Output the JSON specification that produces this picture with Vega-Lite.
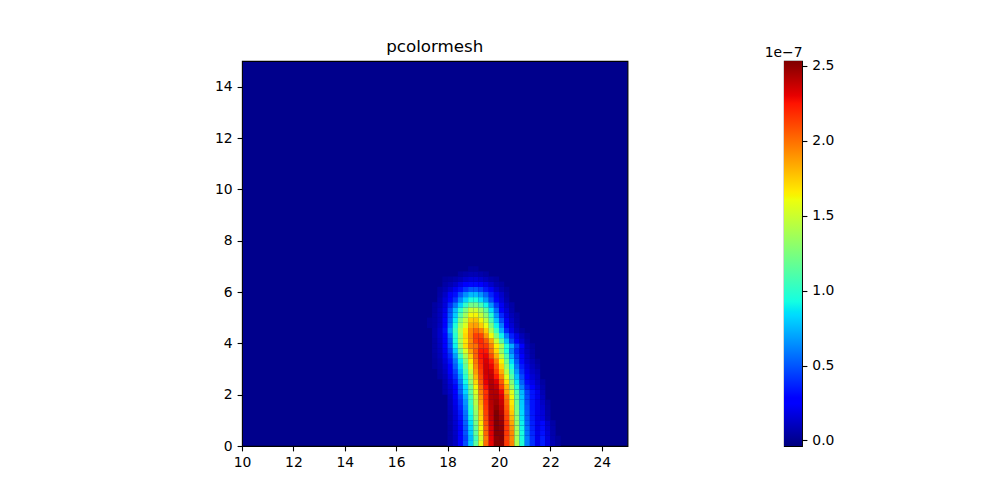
{"$schema":"https://vega.github.io/schema/vega-lite/v6.json","padding":{"left":213,"top":38,"right":0,"bottom":0},"background":"white","config":{"font":"DejaVu Sans","view":{"stroke":"#000000","strokeWidth":1.1},"axis":{"grid":false,"labelFont":"DejaVu Sans","labelFontSize":13.9,"labelColor":"#000000","tickColor":"#000000","tickSize":4.9,"tickWidth":1.1,"labelPadding":4.9,"labelFlush":false,"domain":false,"title":null}},"spacing":134,"hconcat":[{"width":385.5,"height":385,"title":{"text":"pcolormesh","font":"DejaVu Sans","fontSize":16.7,"fontWeight":"normal","color":"#000000","offset":5},"view":{"fill":"#00008c","stroke":"#000000","strokeWidth":1.1},"data":{"values":[
{"x":18.1,"y":0.1,"v":0.05},{"x":18.3,"y":0.1,"v":0.11},{"x":18.5,"y":0.1,"v":0.26},{"x":18.7,"y":0.1,"v":0.48},{"x":18.9,"y":0.1,"v":0.79},{"x":19.1,"y":0.1,"v":1.15},{"x":19.3,"y":0.1,"v":1.58},{"x":19.5,"y":0.1,"v":2.01},{"x":19.7,"y":0.1,"v":2.3},{"x":19.9,"y":0.1,"v":2.52},{"x":20.1,"y":0.1,"v":2.52},{"x":20.3,"y":0.1,"v":2.15},{"x":20.5,"y":0.1,"v":1.95},{"x":20.7,"y":0.1,"v":1.4},{"x":20.9,"y":0.1,"v":0.97},{"x":21.1,"y":0.1,"v":0.6},{"x":21.3,"y":0.1,"v":0.4},{"x":21.5,"y":0.1,"v":0.2},{"x":21.7,"y":0.1,"v":0.35},{"x":21.9,"y":0.1,"v":0.18},{"x":22.1,"y":0.1,"v":0.08},{"x":22.3,"y":0.1,"v":0.03},
{"x":18.1,"y":0.3,"v":0.05},{"x":18.3,"y":0.3,"v":0.11},{"x":18.5,"y":0.3,"v":0.25},{"x":18.7,"y":0.3,"v":0.45},{"x":18.9,"y":0.3,"v":0.75},{"x":19.1,"y":0.3,"v":1.08},{"x":19.3,"y":0.3,"v":1.52},{"x":19.5,"y":0.3,"v":1.97},{"x":19.7,"y":0.3,"v":2.3},{"x":19.9,"y":0.3,"v":2.5},{"x":20.1,"y":0.3,"v":2.52},{"x":20.3,"y":0.3,"v":2.12},{"x":20.5,"y":0.3,"v":1.93},{"x":20.7,"y":0.3,"v":1.37},{"x":20.9,"y":0.3,"v":0.95},{"x":21.1,"y":0.3,"v":0.6},{"x":21.3,"y":0.3,"v":0.4},{"x":21.5,"y":0.3,"v":0.2},{"x":21.7,"y":0.3,"v":0.35},{"x":21.9,"y":0.3,"v":0.17},{"x":22.1,"y":0.3,"v":0.07},{"x":22.3,"y":0.3,"v":0.03},
{"x":18.1,"y":0.5,"v":0.05},{"x":18.3,"y":0.5,"v":0.12},{"x":18.5,"y":0.5,"v":0.27},{"x":18.7,"y":0.5,"v":0.49},{"x":18.9,"y":0.5,"v":0.8},{"x":19.1,"y":0.5,"v":1.17},{"x":19.3,"y":0.5,"v":1.6},{"x":19.5,"y":0.5,"v":2.03},{"x":19.7,"y":0.5,"v":2.32},{"x":19.9,"y":0.5,"v":2.52},{"x":20.1,"y":0.5,"v":2.51},{"x":20.3,"y":0.5,"v":2.15},{"x":20.5,"y":0.5,"v":1.93},{"x":20.7,"y":0.5,"v":1.38},{"x":20.9,"y":0.5,"v":0.94},{"x":21.1,"y":0.5,"v":0.58},{"x":21.3,"y":0.5,"v":0.38},{"x":21.5,"y":0.5,"v":0.2},{"x":21.7,"y":0.5,"v":0.32},{"x":21.9,"y":0.5,"v":0.16},{"x":22.1,"y":0.5,"v":0.06},
{"x":18.1,"y":0.7,"v":0.05},{"x":18.3,"y":0.7,"v":0.13},{"x":18.5,"y":0.7,"v":0.28},{"x":18.7,"y":0.7,"v":0.5},{"x":18.9,"y":0.7,"v":0.82},{"x":19.1,"y":0.7,"v":1.19},{"x":19.3,"y":0.7,"v":1.62},{"x":19.5,"y":0.7,"v":2.05},{"x":19.7,"y":0.7,"v":2.33},{"x":19.9,"y":0.7,"v":2.53},{"x":20.1,"y":0.7,"v":2.5},{"x":20.3,"y":0.7,"v":2.14},{"x":20.5,"y":0.7,"v":1.9},{"x":20.7,"y":0.7,"v":1.36},{"x":20.9,"y":0.7,"v":0.92},{"x":21.1,"y":0.7,"v":0.57},{"x":21.3,"y":0.7,"v":0.37},{"x":21.5,"y":0.7,"v":0.2},{"x":21.7,"y":0.7,"v":0.31},{"x":21.9,"y":0.7,"v":0.15},{"x":22.1,"y":0.7,"v":0.06},
{"x":18.1,"y":0.9,"v":0.06},{"x":18.3,"y":0.9,"v":0.14},{"x":18.5,"y":0.9,"v":0.3},{"x":18.7,"y":0.9,"v":0.53},{"x":18.9,"y":0.9,"v":0.86},{"x":19.1,"y":0.9,"v":1.24},{"x":19.3,"y":0.9,"v":1.67},{"x":19.5,"y":0.9,"v":2.08},{"x":19.7,"y":0.9,"v":2.36},{"x":19.9,"y":0.9,"v":2.54},{"x":20.1,"y":0.9,"v":2.48},{"x":20.3,"y":0.9,"v":2.14},{"x":20.5,"y":0.9,"v":1.85},{"x":20.7,"y":0.9,"v":1.33},{"x":20.9,"y":0.9,"v":0.9},{"x":21.1,"y":0.9,"v":0.55},{"x":21.3,"y":0.9,"v":0.36},{"x":21.5,"y":0.9,"v":0.2},{"x":21.7,"y":0.9,"v":0.3},{"x":21.9,"y":0.9,"v":0.14},{"x":22.1,"y":0.9,"v":0.05},
{"x":18.1,"y":1.1,"v":0.06},{"x":18.3,"y":1.1,"v":0.15},{"x":18.5,"y":1.1,"v":0.32},{"x":18.7,"y":1.1,"v":0.56},{"x":18.9,"y":1.1,"v":0.9},{"x":19.1,"y":1.1,"v":1.29},{"x":19.3,"y":1.1,"v":1.72},{"x":19.5,"y":1.1,"v":2.11},{"x":19.7,"y":1.1,"v":2.38},{"x":19.9,"y":1.1,"v":2.54},{"x":20.1,"y":1.1,"v":2.46},{"x":20.3,"y":1.1,"v":2.12},{"x":20.5,"y":1.1,"v":1.8},{"x":20.7,"y":1.1,"v":1.3},{"x":20.9,"y":1.1,"v":0.87},{"x":21.1,"y":1.1,"v":0.53},{"x":21.3,"y":1.1,"v":0.35},{"x":21.5,"y":1.1,"v":0.2},{"x":21.7,"y":1.1,"v":0.17},{"x":21.9,"y":1.1,"v":0.07},
{"x":18.1,"y":1.3,"v":0.07},{"x":18.3,"y":1.3,"v":0.16},{"x":18.5,"y":1.3,"v":0.34},{"x":18.7,"y":1.3,"v":0.58},{"x":18.9,"y":1.3,"v":0.93},{"x":19.1,"y":1.3,"v":1.32},{"x":19.3,"y":1.3,"v":1.75},{"x":19.5,"y":1.3,"v":2.13},{"x":19.7,"y":1.3,"v":2.39},{"x":19.9,"y":1.3,"v":2.53},{"x":20.1,"y":1.3,"v":2.43},{"x":20.3,"y":1.3,"v":2.1},{"x":20.5,"y":1.3,"v":1.76},{"x":20.7,"y":1.3,"v":1.26},{"x":20.9,"y":1.3,"v":0.84},{"x":21.1,"y":1.3,"v":0.52},{"x":21.3,"y":1.3,"v":0.34},{"x":21.5,"y":1.3,"v":0.2},{"x":21.7,"y":1.3,"v":0.16},{"x":21.9,"y":1.3,"v":0.06},
{"x":18.1,"y":1.5,"v":0.08},{"x":18.3,"y":1.5,"v":0.18},{"x":18.5,"y":1.5,"v":0.37},{"x":18.7,"y":1.5,"v":0.62},{"x":18.9,"y":1.5,"v":0.98},{"x":19.1,"y":1.5,"v":1.38},{"x":19.3,"y":1.5,"v":1.8},{"x":19.5,"y":1.5,"v":2.16},{"x":19.7,"y":1.5,"v":2.4},{"x":19.9,"y":1.5,"v":2.5},{"x":20.1,"y":1.5,"v":2.4},{"x":20.3,"y":1.5,"v":2.06},{"x":20.5,"y":1.5,"v":1.71},{"x":20.7,"y":1.5,"v":1.22},{"x":20.9,"y":1.5,"v":0.81},{"x":21.1,"y":1.5,"v":0.5},{"x":21.3,"y":1.5,"v":0.33},{"x":21.5,"y":1.5,"v":0.2},{"x":21.7,"y":1.5,"v":0.14},{"x":21.9,"y":1.5,"v":0.05},
{"x":18.1,"y":1.7,"v":0.09},{"x":18.3,"y":1.7,"v":0.2},{"x":18.5,"y":1.7,"v":0.4},{"x":18.7,"y":1.7,"v":0.66},{"x":18.9,"y":1.7,"v":1.03},{"x":19.1,"y":1.7,"v":1.43},{"x":19.3,"y":1.7,"v":1.85},{"x":19.5,"y":1.7,"v":2.18},{"x":19.7,"y":1.7,"v":2.41},{"x":19.9,"y":1.7,"v":2.47},{"x":20.1,"y":1.7,"v":2.37},{"x":20.3,"y":1.7,"v":2.02},{"x":20.5,"y":1.7,"v":1.67},{"x":20.7,"y":1.7,"v":1.19},{"x":20.9,"y":1.7,"v":0.8},{"x":21.1,"y":1.7,"v":0.48},{"x":21.3,"y":1.7,"v":0.33},{"x":21.5,"y":1.7,"v":0.2},{"x":21.7,"y":1.7,"v":0.12},{"x":21.9,"y":1.7,"v":0.04},
{"x":18.1,"y":1.9,"v":0.1},{"x":18.3,"y":1.9,"v":0.23},{"x":18.5,"y":1.9,"v":0.44},{"x":18.7,"y":1.9,"v":0.72},{"x":18.9,"y":1.9,"v":1.08},{"x":19.1,"y":1.9,"v":1.48},{"x":19.3,"y":1.9,"v":1.9},{"x":19.5,"y":1.9,"v":2.19},{"x":19.7,"y":1.9,"v":2.42},{"x":19.9,"y":1.9,"v":2.44},{"x":20.1,"y":1.9,"v":2.33},{"x":20.3,"y":1.9,"v":1.97},{"x":20.5,"y":1.9,"v":1.62},{"x":20.7,"y":1.9,"v":1.15},{"x":20.9,"y":1.9,"v":0.78},{"x":21.1,"y":1.9,"v":0.47},{"x":21.3,"y":1.9,"v":0.33},{"x":21.5,"y":1.9,"v":0.2},{"x":21.7,"y":1.9,"v":0.1},
{"x":17.9,"y":2.1,"v":0.06},{"x":18.1,"y":2.1,"v":0.13},{"x":18.3,"y":2.1,"v":0.28},{"x":18.5,"y":2.1,"v":0.52},{"x":18.7,"y":2.1,"v":0.82},{"x":18.9,"y":2.1,"v":1.15},{"x":19.1,"y":2.1,"v":1.55},{"x":19.3,"y":2.1,"v":1.95},{"x":19.5,"y":2.1,"v":2.17},{"x":19.7,"y":2.1,"v":2.42},{"x":19.9,"y":2.1,"v":2.42},{"x":20.1,"y":2.1,"v":2.28},{"x":20.3,"y":2.1,"v":1.85},{"x":20.5,"y":2.1,"v":1.55},{"x":20.7,"y":2.1,"v":1.1},{"x":20.9,"y":2.1,"v":0.75},{"x":21.1,"y":2.1,"v":0.45},{"x":21.3,"y":2.1,"v":0.33},{"x":21.5,"y":2.1,"v":0.2},{"x":21.7,"y":2.1,"v":0.08},
{"x":17.9,"y":2.3,"v":0.06},{"x":18.1,"y":2.3,"v":0.14},{"x":18.3,"y":2.3,"v":0.29},{"x":18.5,"y":2.3,"v":0.54},{"x":18.7,"y":2.3,"v":0.84},{"x":18.9,"y":2.3,"v":1.21},{"x":19.1,"y":2.3,"v":1.63},{"x":19.3,"y":2.3,"v":2.0},{"x":19.5,"y":2.3,"v":2.26},{"x":19.7,"y":2.3,"v":2.43},{"x":19.9,"y":2.3,"v":2.38},{"x":20.1,"y":2.3,"v":2.14},{"x":20.3,"y":2.3,"v":1.8},{"x":20.5,"y":2.3,"v":1.37},{"x":20.7,"y":2.3,"v":0.96},{"x":20.9,"y":2.3,"v":0.61},{"x":21.1,"y":2.3,"v":0.37},{"x":21.3,"y":2.3,"v":0.28},{"x":21.5,"y":2.3,"v":0.15},{"x":21.7,"y":2.3,"v":0.06},
{"x":17.9,"y":2.5,"v":0.07},{"x":18.1,"y":2.5,"v":0.17},{"x":18.3,"y":2.5,"v":0.34},{"x":18.5,"y":2.5,"v":0.6},{"x":18.7,"y":2.5,"v":0.92},{"x":18.9,"y":2.5,"v":1.31},{"x":19.1,"y":2.5,"v":1.72},{"x":19.3,"y":2.5,"v":2.06},{"x":19.5,"y":2.5,"v":2.3},{"x":19.7,"y":2.5,"v":2.42},{"x":19.9,"y":2.5,"v":2.32},{"x":20.1,"y":2.5,"v":2.06},{"x":20.3,"y":2.5,"v":1.69},{"x":20.5,"y":2.5,"v":1.26},{"x":20.7,"y":2.5,"v":0.87},{"x":20.9,"y":2.5,"v":0.53},{"x":21.1,"y":2.5,"v":0.31},{"x":21.3,"y":2.5,"v":0.2},{"x":21.5,"y":2.5,"v":0.12},{"x":21.7,"y":2.5,"v":0.04},
{"x":17.7,"y":2.7,"v":0.04},{"x":17.9,"y":2.7,"v":0.09},{"x":18.1,"y":2.7,"v":0.2},{"x":18.3,"y":2.7,"v":0.4},{"x":18.5,"y":2.7,"v":0.67},{"x":18.7,"y":2.7,"v":0.99},{"x":18.9,"y":2.7,"v":1.39},{"x":19.1,"y":2.7,"v":1.8},{"x":19.3,"y":2.7,"v":2.1},{"x":19.5,"y":2.7,"v":2.33},{"x":19.7,"y":2.7,"v":2.39},{"x":19.9,"y":2.7,"v":2.23},{"x":20.1,"y":2.7,"v":1.94},{"x":20.3,"y":2.7,"v":1.56},{"x":20.5,"y":2.7,"v":1.14},{"x":20.7,"y":2.7,"v":0.77},{"x":20.9,"y":2.7,"v":0.47},{"x":21.1,"y":2.7,"v":0.26},{"x":21.3,"y":2.7,"v":0.15},{"x":21.5,"y":2.7,"v":0.1},
{"x":17.7,"y":2.9,"v":0.05},{"x":17.9,"y":2.9,"v":0.11},{"x":18.1,"y":2.9,"v":0.24},{"x":18.3,"y":2.9,"v":0.45},{"x":18.5,"y":2.9,"v":0.74},{"x":18.7,"y":2.9,"v":1.07},{"x":18.9,"y":2.9,"v":1.48},{"x":19.1,"y":2.9,"v":1.88},{"x":19.3,"y":2.9,"v":2.14},{"x":19.5,"y":2.9,"v":2.36},{"x":19.7,"y":2.9,"v":2.36},{"x":19.9,"y":2.9,"v":2.14},{"x":20.1,"y":2.9,"v":1.83},{"x":20.3,"y":2.9,"v":1.43},{"x":20.5,"y":2.9,"v":1.02},{"x":20.7,"y":2.9,"v":0.67},{"x":20.9,"y":2.9,"v":0.4},{"x":21.1,"y":2.9,"v":0.21},{"x":21.3,"y":2.9,"v":0.12},{"x":21.5,"y":2.9,"v":0.08},
{"x":17.5,"y":3.1,"v":0.03},{"x":17.7,"y":3.1,"v":0.06},{"x":17.9,"y":3.1,"v":0.13},{"x":18.1,"y":3.1,"v":0.28},{"x":18.3,"y":3.1,"v":0.52},{"x":18.5,"y":3.1,"v":0.82},{"x":18.7,"y":3.1,"v":1.17},{"x":18.9,"y":3.1,"v":1.57},{"x":19.1,"y":3.1,"v":1.93},{"x":19.3,"y":3.1,"v":2.18},{"x":19.5,"y":3.1,"v":2.35},{"x":19.7,"y":3.1,"v":2.29},{"x":19.9,"y":3.1,"v":2.07},{"x":20.1,"y":3.1,"v":1.73},{"x":20.3,"y":3.1,"v":1.32},{"x":20.5,"y":3.1,"v":0.93},{"x":20.7,"y":3.1,"v":0.59},{"x":20.9,"y":3.1,"v":0.35},{"x":21.1,"y":3.1,"v":0.18},{"x":21.3,"y":3.1,"v":0.1},{"x":21.5,"y":3.1,"v":0.05},
{"x":17.5,"y":3.3,"v":0.03},{"x":17.7,"y":3.3,"v":0.07},{"x":17.9,"y":3.3,"v":0.16},{"x":18.1,"y":3.3,"v":0.33},{"x":18.3,"y":3.3,"v":0.58},{"x":18.5,"y":3.3,"v":0.89},{"x":18.7,"y":3.3,"v":1.26},{"x":18.9,"y":3.3,"v":1.65},{"x":19.1,"y":3.3,"v":1.98},{"x":19.3,"y":3.3,"v":2.21},{"x":19.5,"y":3.3,"v":2.33},{"x":19.7,"y":3.3,"v":2.24},{"x":19.9,"y":3.3,"v":1.98},{"x":20.1,"y":3.3,"v":1.63},{"x":20.3,"y":3.3,"v":1.21},{"x":20.5,"y":3.3,"v":0.84},{"x":20.7,"y":3.3,"v":0.51},{"x":20.9,"y":3.3,"v":0.3},{"x":21.1,"y":3.3,"v":0.14},{"x":21.3,"y":3.3,"v":0.08},{"x":21.5,"y":3.3,"v":0.03},
{"x":17.5,"y":3.5,"v":0.04},{"x":17.7,"y":3.5,"v":0.09},{"x":17.9,"y":3.5,"v":0.2},{"x":18.1,"y":3.5,"v":0.38},{"x":18.3,"y":3.5,"v":0.68},{"x":18.5,"y":3.5,"v":1.05},{"x":18.7,"y":3.5,"v":1.4},{"x":18.9,"y":3.5,"v":1.75},{"x":19.1,"y":3.5,"v":2.03},{"x":19.3,"y":3.5,"v":2.25},{"x":19.5,"y":3.5,"v":2.29},{"x":19.7,"y":3.5,"v":2.1},{"x":19.9,"y":3.5,"v":1.82},{"x":20.1,"y":3.5,"v":1.48},{"x":20.3,"y":3.5,"v":1.09},{"x":20.5,"y":3.5,"v":0.72},{"x":20.7,"y":3.5,"v":0.44},{"x":20.9,"y":3.5,"v":0.25},{"x":21.1,"y":3.5,"v":0.12},{"x":21.3,"y":3.5,"v":0.05},
{"x":17.5,"y":3.7,"v":0.05},{"x":17.7,"y":3.7,"v":0.1},{"x":17.9,"y":3.7,"v":0.22},{"x":18.1,"y":3.7,"v":0.44},{"x":18.3,"y":3.7,"v":0.8},{"x":18.5,"y":3.7,"v":1.2},{"x":18.7,"y":3.7,"v":1.55},{"x":18.9,"y":3.7,"v":1.85},{"x":19.1,"y":3.7,"v":2.05},{"x":19.3,"y":3.7,"v":2.24},{"x":19.5,"y":3.7,"v":2.23},{"x":19.7,"y":3.7,"v":1.99},{"x":19.9,"y":3.7,"v":1.71},{"x":20.1,"y":3.7,"v":1.33},{"x":20.3,"y":3.7,"v":0.95},{"x":20.5,"y":3.7,"v":0.61},{"x":20.7,"y":3.7,"v":0.38},{"x":20.9,"y":3.7,"v":0.2},{"x":21.1,"y":3.7,"v":0.1},{"x":21.3,"y":3.7,"v":0.04},
{"x":17.5,"y":3.9,"v":0.05},{"x":17.7,"y":3.9,"v":0.11},{"x":17.9,"y":3.9,"v":0.25},{"x":18.1,"y":3.9,"v":0.5},{"x":18.3,"y":3.9,"v":0.9},{"x":18.5,"y":3.9,"v":1.35},{"x":18.7,"y":3.9,"v":1.7},{"x":18.9,"y":3.9,"v":1.95},{"x":19.1,"y":3.9,"v":2.0},{"x":19.3,"y":3.9,"v":2.17},{"x":19.5,"y":3.9,"v":2.15},{"x":19.7,"y":3.9,"v":1.95},{"x":19.9,"y":3.9,"v":1.65},{"x":20.1,"y":3.9,"v":1.4},{"x":20.3,"y":3.9,"v":0.95},{"x":20.5,"y":3.9,"v":0.72},{"x":20.7,"y":3.9,"v":0.45},{"x":20.9,"y":3.9,"v":0.25},{"x":21.1,"y":3.9,"v":0.08},{"x":21.3,"y":3.9,"v":0.03},
{"x":17.5,"y":4.1,"v":0.05},{"x":17.7,"y":4.1,"v":0.12},{"x":17.9,"y":4.1,"v":0.26},{"x":18.1,"y":4.1,"v":0.52},{"x":18.3,"y":4.1,"v":0.95},{"x":18.5,"y":4.1,"v":1.4},{"x":18.7,"y":4.1,"v":1.68},{"x":18.9,"y":4.1,"v":1.92},{"x":19.1,"y":4.1,"v":2.12},{"x":19.3,"y":4.1,"v":2.19},{"x":19.5,"y":4.1,"v":2.06},{"x":19.7,"y":4.1,"v":1.84},{"x":19.9,"y":4.1,"v":1.49},{"x":20.1,"y":4.1,"v":1.12},{"x":20.3,"y":4.1,"v":0.77},{"x":20.5,"y":4.1,"v":0.46},{"x":20.7,"y":4.1,"v":0.26},{"x":20.9,"y":4.1,"v":0.14},{"x":21.1,"y":4.1,"v":0.05},
{"x":17.5,"y":4.3,"v":0.06},{"x":17.7,"y":4.3,"v":0.13},{"x":17.9,"y":4.3,"v":0.29},{"x":18.1,"y":4.3,"v":0.58},{"x":18.3,"y":4.3,"v":0.98},{"x":18.5,"y":4.3,"v":1.38},{"x":18.7,"y":4.3,"v":1.72},{"x":18.9,"y":4.3,"v":1.95},{"x":19.1,"y":4.3,"v":2.13},{"x":19.3,"y":4.3,"v":2.12},{"x":19.5,"y":4.3,"v":1.89},{"x":19.7,"y":4.3,"v":1.62},{"x":19.9,"y":4.3,"v":1.25},{"x":20.1,"y":4.3,"v":0.9},{"x":20.3,"y":4.3,"v":0.59},{"x":20.5,"y":4.3,"v":0.36},{"x":20.7,"y":4.3,"v":0.19},{"x":20.9,"y":4.3,"v":0.09},{"x":21.1,"y":4.3,"v":0.03},
{"x":17.5,"y":4.5,"v":0.06},{"x":17.7,"y":4.5,"v":0.13},{"x":17.9,"y":4.5,"v":0.32},{"x":18.1,"y":4.5,"v":0.68},{"x":18.3,"y":4.5,"v":1.03},{"x":18.5,"y":4.5,"v":1.42},{"x":18.7,"y":4.5,"v":1.68},{"x":18.9,"y":4.5,"v":1.93},{"x":19.1,"y":4.5,"v":2.02},{"x":19.3,"y":4.5,"v":1.95},{"x":19.5,"y":4.5,"v":1.75},{"x":19.7,"y":4.5,"v":1.4},{"x":19.9,"y":4.5,"v":1.05},{"x":20.1,"y":4.5,"v":0.72},{"x":20.3,"y":4.5,"v":0.38},{"x":20.5,"y":4.5,"v":0.2},{"x":20.7,"y":4.5,"v":0.09},{"x":20.9,"y":4.5,"v":0.03},
{"x":17.3,"y":4.7,"v":0.03},{"x":17.5,"y":4.7,"v":0.05},{"x":17.7,"y":4.7,"v":0.11},{"x":17.9,"y":4.7,"v":0.27},{"x":18.1,"y":4.7,"v":0.6},{"x":18.3,"y":4.7,"v":0.95},{"x":18.5,"y":4.7,"v":1.35},{"x":18.7,"y":4.7,"v":1.55},{"x":18.9,"y":4.7,"v":1.85},{"x":19.1,"y":4.7,"v":1.87},{"x":19.3,"y":4.7,"v":1.75},{"x":19.5,"y":4.7,"v":1.6},{"x":19.7,"y":4.7,"v":1.25},{"x":19.9,"y":4.7,"v":0.9},{"x":20.1,"y":4.7,"v":0.6},{"x":20.3,"y":4.7,"v":0.28},{"x":20.5,"y":4.7,"v":0.15},{"x":20.7,"y":4.7,"v":0.06},
{"x":17.3,"y":4.9,"v":0.03},{"x":17.5,"y":4.9,"v":0.05},{"x":17.7,"y":4.9,"v":0.1},{"x":17.9,"y":4.9,"v":0.25},{"x":18.1,"y":4.9,"v":0.55},{"x":18.3,"y":4.9,"v":0.88},{"x":18.5,"y":4.9,"v":1.25},{"x":18.7,"y":4.9,"v":1.48},{"x":18.9,"y":4.9,"v":1.75},{"x":19.1,"y":4.9,"v":1.77},{"x":19.3,"y":4.9,"v":1.63},{"x":19.5,"y":4.9,"v":1.45},{"x":19.7,"y":4.9,"v":1.1},{"x":19.9,"y":4.9,"v":0.78},{"x":20.1,"y":4.9,"v":0.48},{"x":20.3,"y":4.9,"v":0.23},{"x":20.5,"y":4.9,"v":0.12},{"x":20.7,"y":4.9,"v":0.05},
{"x":17.5,"y":5.1,"v":0.05},{"x":17.7,"y":5.1,"v":0.1},{"x":17.9,"y":5.1,"v":0.22},{"x":18.1,"y":5.1,"v":0.52},{"x":18.3,"y":5.1,"v":0.8},{"x":18.5,"y":5.1,"v":1.12},{"x":18.7,"y":5.1,"v":1.36},{"x":18.9,"y":5.1,"v":1.62},{"x":19.1,"y":5.1,"v":1.63},{"x":19.3,"y":5.1,"v":1.48},{"x":19.5,"y":5.1,"v":1.3},{"x":19.7,"y":5.1,"v":0.98},{"x":19.9,"y":5.1,"v":0.66},{"x":20.1,"y":5.1,"v":0.38},{"x":20.3,"y":5.1,"v":0.18},{"x":20.5,"y":5.1,"v":0.09},{"x":20.7,"y":5.1,"v":0.04},
{"x":17.5,"y":5.3,"v":0.04},{"x":17.7,"y":5.3,"v":0.1},{"x":17.9,"y":5.3,"v":0.2},{"x":18.1,"y":5.3,"v":0.48},{"x":18.3,"y":5.3,"v":0.75},{"x":18.5,"y":5.3,"v":1.0},{"x":18.7,"y":5.3,"v":1.25},{"x":18.9,"y":5.3,"v":1.5},{"x":19.1,"y":5.3,"v":1.5},{"x":19.3,"y":5.3,"v":1.35},{"x":19.5,"y":5.3,"v":1.15},{"x":19.7,"y":5.3,"v":0.85},{"x":19.9,"y":5.3,"v":0.55},{"x":20.1,"y":5.3,"v":0.28},{"x":20.3,"y":5.3,"v":0.15},{"x":20.5,"y":5.3,"v":0.06},
{"x":17.5,"y":5.5,"v":0.04},{"x":17.7,"y":5.5,"v":0.08},{"x":17.9,"y":5.5,"v":0.17},{"x":18.1,"y":5.5,"v":0.39},{"x":18.3,"y":5.5,"v":0.58},{"x":18.5,"y":5.5,"v":0.81},{"x":18.7,"y":5.5,"v":1.01},{"x":18.9,"y":5.5,"v":1.22},{"x":19.1,"y":5.5,"v":1.22},{"x":19.3,"y":5.5,"v":1.09},{"x":19.5,"y":5.5,"v":0.91},{"x":19.7,"y":5.5,"v":0.66},{"x":19.9,"y":5.5,"v":0.41},{"x":20.1,"y":5.5,"v":0.22},{"x":20.3,"y":5.5,"v":0.11},{"x":20.5,"y":5.5,"v":0.05},
{"x":17.7,"y":5.7,"v":0.07},{"x":17.9,"y":5.7,"v":0.16},{"x":18.1,"y":5.7,"v":0.29},{"x":18.3,"y":5.7,"v":0.41},{"x":18.5,"y":5.7,"v":0.63},{"x":18.7,"y":5.7,"v":0.81},{"x":18.9,"y":5.7,"v":0.95},{"x":19.1,"y":5.7,"v":0.95},{"x":19.3,"y":5.7,"v":0.84},{"x":19.5,"y":5.7,"v":0.67},{"x":19.7,"y":5.7,"v":0.46},{"x":19.9,"y":5.7,"v":0.27},{"x":20.1,"y":5.7,"v":0.16},{"x":20.3,"y":5.7,"v":0.07},
{"x":17.7,"y":5.9,"v":0.05},{"x":17.9,"y":5.9,"v":0.12},{"x":18.1,"y":5.9,"v":0.23},{"x":18.3,"y":5.9,"v":0.32},{"x":18.5,"y":5.9,"v":0.49},{"x":18.7,"y":5.9,"v":0.64},{"x":18.9,"y":5.9,"v":0.75},{"x":19.1,"y":5.9,"v":0.75},{"x":19.3,"y":5.9,"v":0.66},{"x":19.5,"y":5.9,"v":0.53},{"x":19.7,"y":5.9,"v":0.37},{"x":19.9,"y":5.9,"v":0.21},{"x":20.1,"y":5.9,"v":0.13},{"x":20.3,"y":5.9,"v":0.05},
{"x":17.7,"y":6.1,"v":0.04},{"x":17.9,"y":6.1,"v":0.08},{"x":18.1,"y":6.1,"v":0.14},{"x":18.3,"y":6.1,"v":0.21},{"x":18.5,"y":6.1,"v":0.32},{"x":18.7,"y":6.1,"v":0.42},{"x":18.9,"y":6.1,"v":0.5},{"x":19.1,"y":6.1,"v":0.5},{"x":19.3,"y":6.1,"v":0.44},{"x":19.5,"y":6.1,"v":0.34},{"x":19.7,"y":6.1,"v":0.23},{"x":19.9,"y":6.1,"v":0.13},{"x":20.1,"y":6.1,"v":0.07},{"x":20.3,"y":6.1,"v":0.03},
{"x":17.9,"y":6.3,"v":0.05},{"x":18.1,"y":6.3,"v":0.08},{"x":18.3,"y":6.3,"v":0.12},{"x":18.5,"y":6.3,"v":0.19},{"x":18.7,"y":6.3,"v":0.25},{"x":18.9,"y":6.3,"v":0.3},{"x":19.1,"y":6.3,"v":0.3},{"x":19.3,"y":6.3,"v":0.26},{"x":19.5,"y":6.3,"v":0.2},{"x":19.7,"y":6.3,"v":0.13},{"x":19.9,"y":6.3,"v":0.07},{"x":20.1,"y":6.3,"v":0.04},
{"x":17.9,"y":6.5,"v":0.03},{"x":18.1,"y":6.5,"v":0.04},{"x":18.3,"y":6.5,"v":0.06},{"x":18.5,"y":6.5,"v":0.09},{"x":18.7,"y":6.5,"v":0.13},{"x":18.9,"y":6.5,"v":0.16},{"x":19.1,"y":6.5,"v":0.16},{"x":19.3,"y":6.5,"v":0.13},{"x":19.5,"y":6.5,"v":0.1},{"x":19.7,"y":6.5,"v":0.06},{"x":19.9,"y":6.5,"v":0.04},
{"x":18.5,"y":6.7,"v":0.04},{"x":18.7,"y":6.7,"v":0.06},{"x":18.9,"y":6.7,"v":0.08},{"x":19.1,"y":6.7,"v":0.08},{"x":19.3,"y":6.7,"v":0.06},{"x":19.5,"y":6.7,"v":0.04},
{"x":18.9,"y":6.9,"v":0.03},{"x":19.1,"y":6.9,"v":0.03}
]},"mark":{"type":"rect","width":5.25,"height":5.25,"clip":true},"encoding":{"x":{"field":"x","type":"quantitative","scale":{"domain":[10,25],"nice":false,"zero":false},"axis":{"values":[10,12,14,16,18,20,22,24],"format":"d"}},"y":{"field":"y","type":"quantitative","scale":{"domain":[0,15],"nice":false,"zero":false},"axis":{"values":[0,2,4,6,8,10,12,14],"format":"d"}},"color":{"field":"v","type":"quantitative","legend":null,"scale":{"type":"linear","interpolate":"rgb","clamp":true,"domain":[-0.037,0.246,0.284,0.837,0.8625,0.927,1.608,1.6335,1.659,2.25,2.302,2.533],"range":["#00007f","#0000ff","#0000ff","#00dbff","#00e5f7","#14ffe2","#eeff0c","#f7f500","#ffec00","#ff1300","#e80000","#7f0000"]}}}},{"width":18,"height":385,"view":{"stroke":"#000000","strokeWidth":1.1},"data":{"values":[{"lo":-0.037,"hi":2.533}]},"mark":{"type":"rect","fill":{"gradient":"linear","x1":0,"y1":1,"x2":0,"y2":0,"stops":[{"offset":0,"color":"#00007f"},{"offset":0.11,"color":"#0000ff"},{"offset":0.125,"color":"#0000ff"},{"offset":0.34,"color":"#00dbff"},{"offset":0.35,"color":"#00e5f7"},{"offset":0.375,"color":"#14ffe2"},{"offset":0.64,"color":"#eeff0c"},{"offset":0.65,"color":"#f7f500"},{"offset":0.66,"color":"#ffec00"},{"offset":0.89,"color":"#ff1300"},{"offset":0.91,"color":"#e80000"},{"offset":1,"color":"#7f0000"}]}},"encoding":{"y":{"field":"lo","type":"quantitative","scale":{"domain":[-0.037,2.533],"nice":false,"zero":false},"axis":{"orient":"right","values":[0,0.5,1,1.5,2,2.5],"format":".1f","title":"1e−7","titleFont":"DejaVu Sans","titleFontSize":13.9,"titleFontWeight":"normal","titleColor":"#000000","titleAngle":0,"titleAlign":"right","titleBaseline":"bottom","titleX":0,"titleY":-2}},"y2":{"field":"hi"}}}]}
